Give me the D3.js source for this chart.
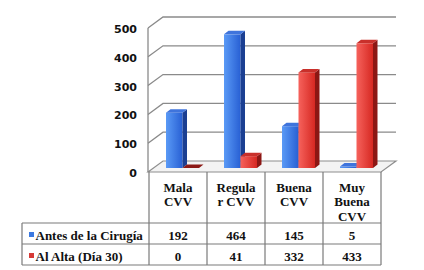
<!DOCTYPE html>
<html><head><meta charset="utf-8">
<script src="https://cdn.jsdelivr.net/npm/d3@7"></script>
<style>html,body{margin:0;padding:0;background:#fff;}svg{display:block;}</style>
</head><body>
<svg id="c" width="424" height="270"></svg>
<script>
const categories = [["Mala","CVV"],["Regula","r CVV"],["Buena","CVV"],["Muy","Buena","CVV"]];
const seriesNames = ["Antes de la Cirugía","Al Alta (Día 30)"];
const antes = [192, 464, 145, 5];
const alta = [0, 41, 332, 433];
const yTicks = [0, 100, 200, 300, 400, 500];

const svg = d3.select("#c");
const defs = svg.append("defs");
function grad(id, c1, c2){
  const g = defs.append("linearGradient").attr("id", id).attr("x1","0").attr("x2","1").attr("y1","0").attr("y2","0");
  g.append("stop").attr("offset","0").attr("stop-color", c1);
  g.append("stop").attr("offset","1").attr("stop-color", c2);
}
grad("gBlue", "#5a9af6", "#2860d4");
grad("gRed", "#f6625c", "#d62822");

const DX = 15, DY = -11;
const frontL = 148, frontR = 381, frontY0 = 172;
const yBack = d3.scaleLinear().domain([0,500]).range([frontY0 + DY, frontY0 + DY - 144]);
const yFront = d3.scaleLinear().domain([0,500]).range([frontY0, frontY0 - 144]);
const yBar = d3.scaleLinear().domain([0,500]).range([168, 24]);
const x = d3.scaleBand().domain(d3.range(categories.length)).range([149, 381]);

const grid = svg.append("g");
grid.append("path")
  .attr("d", `M${frontL},${frontY0} L${frontL+DX},${yBack(0)} L${frontR+DX},${yBack(0)} L${frontR},${frontY0} Z`)
  .attr("fill", "#f3f3f3").attr("stroke", "#8e8e8e").attr("stroke-width", 1.2);
yTicks.forEach(v => {
  if (v > 0) {
    grid.append("path")
      .attr("d", `M${frontL},${yFront(v)} L${frontL+DX},${yBack(v)} L${frontR+DX},${yBack(v)}`)
      .attr("fill","none").attr("stroke","#8a8a8a").attr("stroke-width",1.3);
  }
});
grid.append("line").attr("x1", frontL).attr("x2", frontL).attr("y1", yFront(500)).attr("y2", frontY0)
  .attr("stroke","#8a8a8a").attr("stroke-width",1.3);

svg.append("g").selectAll("text").data(yTicks).join("text")
  .attr("x", 137).attr("y", d => yFront(d) + 2)
  .attr("text-anchor","end").attr("dominant-baseline","middle")
  .attr("font-family","DejaVu Sans").attr("font-weight","bold").attr("font-size", 11)
  .attr("fill","#111").text(d => d);

const bd = 4.5, bdy = -3.5, bw = 16.5;
function bar(g, x0, v, front, side, top) {
  const yb = yBar(0), yt = yBar(v);
  g.append("rect").attr("x", x0).attr("y", yt).attr("width", bw).attr("height", Math.max(0, yb - yt)).attr("fill", front);
  g.append("path").attr("d", `M${x0+bw},${yt} L${x0+bw+bd},${yt+bdy} L${x0+bw+bd},${yb+bdy} L${x0+bw},${yb} Z`).attr("fill", side);
  g.append("path").attr("d", `M${x0},${yt} L${x0+bd},${yt+bdy} L${x0+bw+bd},${yt+bdy} L${x0+bw},${yt} Z`).attr("fill", top);
}
const barsG = svg.append("g");
categories.forEach((c, i) => {
  bar(barsG, x(i) + 17, antes[i], "url(#gBlue)", "#1b3f92", "#3f74dc");
  bar(barsG, x(i) + 33.5, alta[i], "url(#gRed)", "#8c1714", alta[i] === 0 ? "#8c1a16" : "#c9302b");
});

const t = svg.append("g");
const lineC = "#7a7a7a";
const rowTop = 223, rowMid = 244, rowBot = 265, tableL = 22;
const colX = d3.range(categories.length + 1).map(i => 149 + i * x.bandwidth());
colX.forEach(cx => t.append("line").attr("x1", cx).attr("x2", cx).attr("y1", frontY0).attr("y2", rowBot).attr("stroke", lineC).attr("stroke-width", 1.2));
[rowTop, rowMid, rowBot].forEach(ry => t.append("line").attr("x1", tableL).attr("x2", frontR).attr("y1", ry).attr("y2", ry).attr("stroke", lineC).attr("stroke-width", 1.2));
t.append("line").attr("x1", tableL).attr("x2", tableL).attr("y1", rowTop).attr("y2", rowBot).attr("stroke", lineC).attr("stroke-width", 1.2);

const font = "Liberation Serif";
const fs = 13;
categories.forEach((lines, i) => {
  lines.forEach((ln, k) => {
    t.append("text").attr("x", x(i) + x.bandwidth()/2).attr("y", 191.5 + k * 14.5)
      .attr("text-anchor","middle").attr("font-family", font).attr("font-weight","bold").attr("font-size", fs)
      .attr("fill","#111").text(ln);
  });
});
const rows = [antes, alta];
const keyColors = ["#3b78e0", "#d63a36"];
rows.forEach((vals, r) => {
  const base = (r === 0 ? rowTop : rowMid) + 17;
  t.append("rect").attr("x", 29).attr("y", base - 8).attr("width", 5).attr("height", 5).attr("fill", keyColors[r]);
  t.append("text").attr("x", 35.5).attr("y", base)
    .attr("font-family", font).attr("font-weight","bold").attr("font-size", fs).attr("fill","#111").text(seriesNames[r]);
  vals.forEach((v, i) => {
    t.append("text").attr("x", x(i) + x.bandwidth()/2).attr("y", base)
      .attr("text-anchor","middle").attr("font-family", font).attr("font-weight","bold").attr("font-size", fs)
      .attr("fill","#111").text(v);
  });
});
</script>
</body></html>
